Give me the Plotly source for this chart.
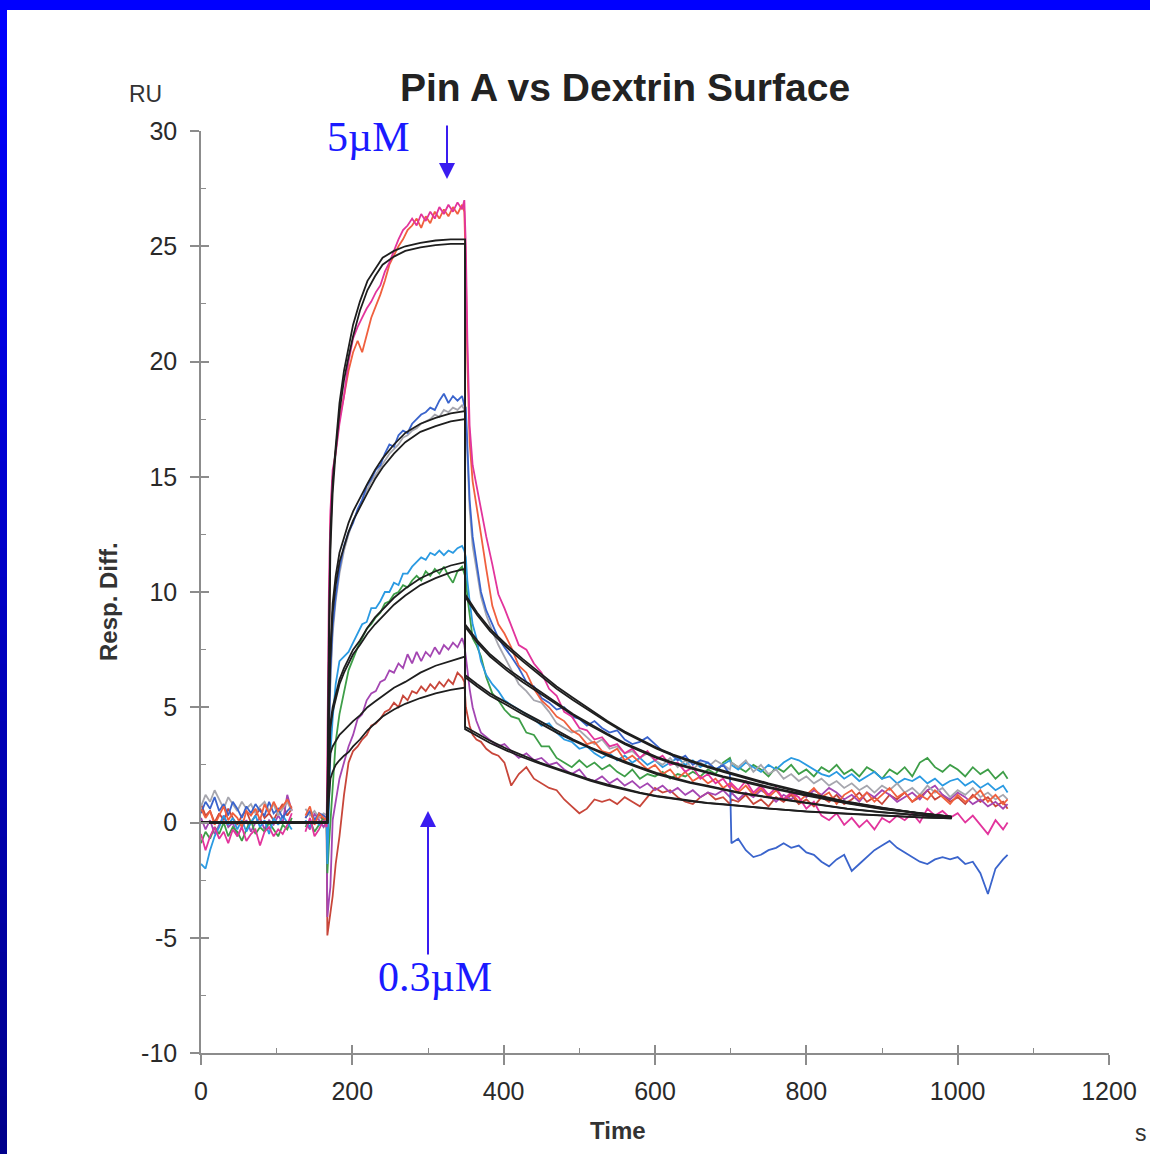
import plotly.graph_objects as go

# ---------------- data ----------------
T_BASE = [0, 6, 12, 18, 24, 30, 36, 42, 48, 54, 60, 66, 72, 78, 84, 90, 96, 102, 108, 114,
          120, 126, 132, 138, 144, 150, 156, 162, 166]
T_ASSOC = [167, 169, 171, 174, 178, 183, 189, 195, 201, 207, 213, 219, 225, 231, 237, 243, 249,
           255, 261, 267, 273, 279, 285, 291, 297, 303, 309, 315, 321, 327, 333, 339, 345, 348]
T_DISS = [350, 352, 355, 359, 364, 370, 377, 385, 393, 401,
          410, 420, 430, 440, 450, 460, 470, 480, 490, 500,
          510, 520, 530, 540, 550, 560, 570, 580, 590, 600,
          610, 620, 630, 640, 650, 660, 670, 680, 690,
          699, 701,
          710, 720, 730, 740, 750, 760, 770, 780, 790, 800,
          810, 820, 830, 840, 850, 860, 870, 880, 890, 900,
          910, 920, 930, 940, 950, 960, 970, 980, 990, 1000,
          1010, 1020, 1030, 1040, 1050, 1060,
          1066]

# baseline (29 values each, None = gap in recording)
pink_base = [-0.5, -1.2, -0.6, -0.2, -0.7, -0.4, -0.9, -0.3, -0.6, -0.2, -0.8, -0.5, -0.3, -1.0, -0.4,
             -0.2, -0.6, -0.3, -0.5, -0.1, 0.4, None, None, -0.4, 0.2, -0.6, -0.3, 0.1, -0.2]
orange_base = [0.6, 0.2, 0.5, -0.1, 0.3, 0.7, 0.1, 0.4, 0.2, -0.2, 0.5, 0.3, 0.6, 0.1, 0.8,
               0.4, 0.9, 0.5, 0.7, 1.0, 0.6, None, None, 0.3, 0.7, -0.1, 0.4, 0.2, 0.1]
blue_base = [0.4, 0.9, 0.6, 1.1, 0.5, 0.8, 0.3, 0.9, 0.6, 0.2, 0.7, 0.4, 0.8, 0.5, 0.3,
             0.9, 0.4, 0.6, 0.2, 0.5, 0.7, None, None, 0.2, 0.5, 0.1, 0.4, 0.3, 0.2]
gray_base = [0.7, 1.2, 0.9, 1.4, 1.0, 0.6, 1.1, 0.8, 0.5, 0.9, 0.6, 0.8, 0.4, 0.7, 0.9,
             0.5, 0.8, 0.3, 0.6, 0.9, 0.5, None, None, 0.6, 0.3, 0.5, 0.2, 0.4, 0.3]
cyan_base = [-1.8, -2.0, -1.2, -0.6, -0.2, 0.3, -0.1, 0.2, -0.3, 0.1, -0.4, 0.0, 0.3, -0.2, 0.1,
             -0.5, 0.2, -0.1, 0.3, 0.0, -0.3, None, None, 0.1, -0.2, 0.2, -0.1, 0.0, 0.1]
green_base = [-0.9, -0.4, -0.7, -0.2, -0.5, 0.0, -0.6, -0.2, -0.4, -0.8, -0.3, 0.1, -0.5, -0.2, -0.4,
              0.0, -0.3, -0.6, -0.1, -0.3, 0.2, None, None, -0.2, 0.1, -0.4, -0.1, 0.2, 0.0]
purple_base = [0.2, -0.3, 0.1, -0.5, -0.1, 0.3, -0.2, 0.0, -0.6, -0.2, 0.1, -0.4, 0.0, 0.2, -0.3,
               0.1, -0.1, 0.3, 0.0, 1.2, 0.5, None, None, 0.0, -0.3, 0.4, 0.1, -0.2, 0.0]
red_base = [0.8, 0.3, 0.5, 0.0, 0.4, 0.1, 0.6, 0.2, -0.1, 0.3, 0.5, 0.0, 0.3, 0.6, 0.2,
            0.4, 0.1, 0.5, 0.8, 0.3, 0.6, None, None, 0.2, 0.5, 0.0, 0.3, 0.1, 0.2]

# association (34 values each)
pink_assoc = [3.0, 10.0, 13.5, 15.3, 16.0, 17.3, 18.5, 20.0, 21.0, 21.5,
              21.9, 22.3, 22.6, 23.0, 23.3, 23.9, 24.3, 24.8, 25.3, 25.7,
              25.9, 26.2, 25.9, 26.4, 26.1, 26.5, 26.2, 26.7, 26.4, 26.8,
              26.5, 26.9, 26.6, 27.0]
orange_assoc = [1.0, 8.0, 13.0, 15.0, 16.2, 17.5, 18.5, 19.6, 20.4, 20.9,
                20.4, 21.2, 21.9, 22.4, 22.9, 23.5, 24.2, 24.6, 25.0, 25.3,
                25.7, 25.9, 26.2, 25.8, 26.3, 26.0, 26.5, 26.2, 26.6, 26.3,
                26.7, 26.4, 26.8, 26.5]
blue_assoc = [0.5, 4.0, 6.5, 8.5, 9.8, 11.0, 12.0, 12.6, 13.0, 13.6,
              14.0, 14.6, 14.9, 15.3, 15.5, 16.0, 16.4, 16.3, 16.8, 17.0,
              16.9, 17.3, 17.5, 17.7, 17.8, 18.0, 17.9, 18.3, 18.6, 18.2,
              18.5, 18.3, 18.5, 18.1]
gray_assoc = [0.3, 3.5, 6.0, 8.2, 9.6, 10.8, 11.8, 12.5, 13.1, 13.5,
              14.0, 14.4, 14.8, 15.1, 15.4, 15.7, 16.0, 16.2, 16.4, 16.7,
              16.8, 17.0, 17.1, 17.3, 17.4, 17.5, 17.7, 17.6, 17.9, 17.8,
              18.0, 17.9, 18.1, 17.9]
cyan_assoc = [-1.8, 1.0, 3.0, 4.5, 6.0, 7.0, 7.2, 7.4, 7.8, 8.2,
              8.6, 8.7, 9.3, 9.3, 9.6, 10.0, 10.0, 10.4, 10.3, 10.8,
              10.8, 11.1, 11.3, 11.5, 11.4, 11.7, 11.6, 11.8, 11.6, 11.8,
              11.7, 11.9, 12.0, 11.8]
green_assoc = [-2.2, -1.0, 0.0, 1.2, 3.5, 4.7, 5.6, 6.6, 7.1, 7.6,
               8.0, 8.4, 8.6, 8.9, 9.1, 9.5, 9.6, 9.9, 10.0, 10.3,
               10.2, 10.5, 10.7, 10.5, 10.9, 10.7, 11.0, 10.8, 11.1, 10.7,
               10.4, 10.9, 11.1, 10.8]
purple_assoc = [-4.1, -3.4, -2.8, 0.1, 1.0, 1.9, 2.6, 3.3, 3.8, 4.5,
                4.7, 5.3, 5.6, 5.7, 6.1, 6.2, 6.6, 6.5, 6.9, 6.7,
                7.3, 6.9, 7.4, 7.0, 7.4, 7.2, 7.6, 7.3, 7.7, 7.5,
                7.8, 7.6, 8.0, 7.7]
red_assoc = [-4.9, -4.4, -4.0, -3.2, -1.8, -0.6, 1.2, 2.6, 3.1, 3.3,
             3.6, 3.8, 4.2, 4.3, 4.5, 4.8, 4.9, 5.2, 5.0, 5.5,
             5.3, 5.7, 5.6, 5.9, 5.7, 6.0, 5.8, 6.1, 5.9, 6.2,
             6.0, 6.5, 6.3, 6.1]

# dissociation (78 values each)
pink_diss = [25.0, 21.0, 17.2, 15.5, 14.6, 13.6, 12.4, 11.2, 9.9, 9.3,
             8.5, 7.7, 7.5, 6.9, 6.5, 5.8, 5.5, 4.8, 4.6, 4.1,
             4.0, 3.6, 3.7, 3.3, 3.4, 3.0, 3.2, 2.8, 3.1, 2.7,
             2.9, 2.5, 2.6, 2.2, 2.4, 1.9, 2.1, 1.7, 1.9,
             1.5, 1.7,
             1.4, 1.8, 1.3, 1.6, 1.2, 1.5, 1.0, 1.3, 1.1, 0.6,
             0.9, 0.3, 0.1, 0.4, -0.1, 0.2, -0.2, 0.1, -0.3, 0.2,
             0.0, 0.3, 0.1, 0.4, 0.0, 0.6, 0.3, 0.5, 0.2, 0.4,
             0.0, 0.3, -0.1, -0.5, 0.1, -0.3,
             0.0]
orange_diss = [24.0, 20.0, 16.5, 14.8, 13.8, 12.5, 11.0, 9.4, 8.6, 8.2,
               7.6, 6.8, 6.5, 5.8, 5.3, 5.0, 4.6, 4.4, 4.0, 3.8,
               3.4, 3.5, 3.1, 3.0, 3.2, 2.7, 2.9, 2.6, 2.3, 2.5,
               2.1, 2.3, 1.9, 2.2, 1.8, 2.0, 1.7, 1.9, 1.5,
               1.7, 1.6,
               1.3, 1.6, 1.2, 1.5, 1.1, 1.4, 1.0, 1.3, 0.9, 1.2,
               1.5, 1.1, 1.3, 0.8, 1.2, 1.4, 1.0, 1.3, 0.9, 1.2,
               1.5, 1.1, 1.3, 0.9, 1.2, 1.0, 1.4, 1.1, 0.8, 1.2,
               0.9, 1.1, 1.4, 0.9, 1.2, 0.8,
               1.0]
blue_diss = [18.0, 16.5, 14.0, 12.4, 11.2, 10.0, 9.2, 8.6, 8.0, 7.6,
             7.2, 6.7, 6.1, 5.9, 5.4, 5.2, 4.9, 5.0, 4.6, 4.5,
             4.2, 4.4, 4.1, 3.9, 4.0, 3.6, 3.4, 3.5, 3.7, 3.4,
             3.1, 3.0, 2.7, 2.9, 2.5, 2.7, 2.6, 2.3, 2.5,
             2.1, -0.9,
             -0.7, -1.2, -1.5, -1.4, -1.2, -1.1, -0.9, -1.1, -1.0, -1.3,
             -1.4, -1.7, -1.9, -1.6, -1.4, -2.1, -1.8, -1.5, -1.2, -1.0,
             -0.8, -1.1, -1.3, -1.5, -1.7, -1.8, -1.6, -1.5, -1.6, -1.5,
             -1.8, -1.7, -2.2, -3.1, -2.0, -1.6,
             -1.4]
gray_diss = [17.5, 16.0, 13.6, 12.0, 10.9, 9.8, 9.0, 8.3, 7.7, 7.2,
             6.6, 6.0, 5.7, 5.3, 5.2, 4.8, 4.3, 4.1, 3.9, 4.0,
             3.7, 3.4, 3.6, 3.2, 3.3, 3.0, 3.1, 2.8, 3.0, 2.7,
             2.5, 2.8, 2.4, 2.7, 2.3, 2.6, 2.4, 2.7, 2.5,
             2.3, 2.6,
             2.4, 2.7, 2.2, 2.5, 2.1, 2.3, 1.9, 2.1, 1.8, 2.0,
             1.7, 1.9, 1.6, 1.8, 1.5, 1.7, 1.4, 1.6, 1.3, 1.6,
             1.4, 1.7, 1.3, 1.5, 1.2, 1.6, 1.3, 1.5, 1.1, 1.4,
             1.2, 1.5, 1.1, 1.3, 1.0, 1.2,
             1.0]
cyan_diss = [11.5, 10.5, 9.6, 8.6, 8.0, 7.0, 6.4, 6.0, 5.7, 5.3,
             5.1, 4.9, 4.7, 4.5, 4.2, 4.3, 3.9, 3.6, 3.5, 3.2,
             3.3, 3.0, 2.8, 3.0, 2.7, 2.9, 2.6, 2.8, 2.5, 2.7,
             2.4, 2.6, 2.8, 2.5, 2.7, 2.4, 2.6, 2.3, 2.5,
             2.7, 2.5,
             2.3, 2.6, 2.4, 2.2, 2.5, 2.3, 2.6, 2.8, 2.7, 2.5,
             2.3, 2.1, 2.0, 2.2, 1.9, 2.1, 1.8, 2.0, 2.2, 1.9,
             2.0, 1.7, 1.9, 1.8, 2.0, 1.7, 1.9, 1.6, 1.8, 1.9,
             1.6, 1.8, 1.5, 1.7, 1.4, 1.6,
             1.3]
green_diss = [10.6, 9.8, 8.9, 8.0, 7.7, 7.2, 6.3, 5.6, 5.3, 4.9,
              4.6, 4.5, 3.9, 3.8, 3.3, 3.3, 2.8, 2.6, 2.4, 2.7,
              2.4, 2.6, 2.3, 2.5, 2.2, 2.0, 2.3, 1.9, 2.1, 2.0,
              2.2, 1.9, 2.1, 2.0, 2.2, 2.0, 2.3, 2.1, 2.6,
              2.8, 2.6,
              2.4, 2.2, 2.5, 2.3, 2.0, 2.4, 2.2, 2.5, 2.1, 2.3,
              2.0, 2.4, 2.2, 2.5, 2.1, 2.3, 2.0, 2.4, 2.2, 1.9,
              2.3, 2.1, 2.4, 2.0, 2.6, 2.8, 2.4, 2.2, 2.5, 2.3,
              2.0, 2.4, 2.1, 2.3, 1.9, 2.2,
              1.9]
purple_diss = [7.2, 6.6, 5.8, 5.0, 4.4, 3.9, 3.7, 3.5, 3.3, 3.4,
               3.1, 2.8, 3.0, 2.7, 2.8, 2.5, 2.6, 2.3, 2.1, 2.3,
               1.9, 1.8, 2.0, 1.7, 1.9, 1.6, 1.8, 1.5, 1.7, 1.4,
               1.6, 1.3, 1.5, 1.2, 1.4, 1.1, 1.3, 1.2, 1.4,
               1.1, 1.3,
               1.0, 1.3, 1.1, 1.4, 1.2, 0.9, 1.2, 1.0, 1.3, 1.1,
               1.4, 1.2, 1.5, 1.3, 1.0, 1.2, 0.9, 1.3, 1.1, 1.4,
               1.2, 0.9, 1.1, 1.3, 1.0, 1.4, 1.6, 1.2, 1.0, 1.3,
               1.1, 0.8, 1.0, 0.7, 0.9, 0.6,
               0.8]
red_diss = [5.0, 4.6, 4.2, 3.8, 3.6, 3.5, 3.2, 3.0, 2.9, 2.6,
            1.6, 2.1, 2.4, 1.9, 1.7, 1.5, 1.4, 1.0, 0.7, 0.4,
            0.6, 1.0, 0.9, 1.0, 0.8, 1.1, 0.9, 0.7, 1.1, 1.5,
            1.3, 1.4, 1.1, 0.9, 0.8, 1.1, 1.3, 1.0, 1.1,
            0.8, 1.0,
            0.9, 1.2, 0.8, 1.0, 0.7, 1.1, 0.9, 1.2, 0.8, 1.0,
            0.7, 1.1, 0.9, 1.2, 0.8, 1.0, 1.3, 0.9, 1.1, 0.8,
            1.2, 1.0, 1.3, 0.9, 1.1, 1.4, 1.0, 1.2, 0.9, 1.1,
            0.8, 1.2, 0.9, 1.1, 0.7, 0.9,
            0.6]

# fitted curves (black)
FIT_T_ASSOC = [0, 167, 169, 171, 174, 178, 183, 189, 195, 201, 210, 220, 230, 240, 255, 270, 290, 310, 330, 349]
FIT_T_DISS = [349, 365, 382, 404, 425, 448, 470, 492, 515, 537, 560, 580, 602, 624, 646, 669, 690,
              712, 750, 800, 854, 900, 950, 992]
fit1_assoc = [0, 0, 8.0, 12.5, 14.8, 16.5, 18.2, 19.6, 20.6, 21.6, 22.6, 23.5, 24.0, 24.5, 24.8, 25.0, 25.15, 25.25, 25.3, 25.3]
fit2_assoc = [0, 0, 7.0, 11.8, 14.3, 16.1, 17.8, 19.2, 20.2, 21.1, 22.2, 23.1, 23.7, 24.2, 24.55, 24.8, 24.95, 25.05, 25.1, 25.1]
fit3_assoc = [0, 0, 5.0, 7.5, 9.5, 10.7, 11.7, 12.4, 13.0, 13.5, 14.1, 14.7, 15.3, 15.8, 16.4, 16.9, 17.3, 17.55, 17.75, 17.85]
fit4_assoc = [0, 0, 4.6, 7.1, 9.1, 10.3, 11.3, 12.0, 12.6, 13.1, 13.7, 14.3, 14.9, 15.4, 16.0, 16.5, 16.95, 17.2, 17.4, 17.5]
fit5_assoc = [0, 0, 2.5, 4.3, 5.0, 5.6, 6.2, 6.7, 7.1, 7.5, 7.9, 8.45, 8.9, 9.25, 9.75, 10.15, 10.6, 10.9, 11.15, 11.3]
fit6_assoc = [0, 0, 2.3, 4.1, 4.8, 5.4, 6.0, 6.5, 6.9, 7.3, 7.7, 8.2, 8.6, 8.95, 9.45, 9.85, 10.3, 10.6, 10.85, 11.0]
fit7_assoc = [0, 0, 1.8, 3.0, 3.3, 3.55, 3.8, 4.0, 4.2, 4.4, 4.65, 5.0, 5.25, 5.5, 5.85, 6.1, 6.5, 6.8, 7.0, 7.2]
fit8_assoc = [0, 0, 1.0, 1.9, 2.2, 2.5, 2.7, 2.9, 3.05, 3.3, 3.6, 4.0, 4.3, 4.6, 4.9, 5.15, 5.4, 5.6, 5.75, 5.85]
fit1_diss = [9.9, 9.1, 8.4, 7.7, 7.1, 6.5, 5.9, 5.4, 4.9, 4.4, 3.95, 3.6, 3.25, 2.95, 2.7, 2.45, 2.25, 2.05, 1.7, 1.3, 0.9, 0.65, 0.4, 0.25]
fit2_diss = [9.8, 9.0, 8.3, 7.6, 7.0, 6.4, 5.8, 5.3, 4.8, 4.35, 3.9, 3.55, 3.2, 2.9, 2.65, 2.4, 2.2, 2.0, 1.65, 1.25, 0.88, 0.63, 0.4, 0.25]
fit3_diss = [8.6, 7.9, 7.3, 6.7, 6.2, 5.7, 5.2, 4.7, 4.25, 3.85, 3.45, 3.15, 2.85, 2.6, 2.4, 2.2, 2.0, 1.85, 1.55, 1.2, 0.85, 0.6, 0.4, 0.25]
fit4_diss = [8.5, 7.8, 7.2, 6.6, 6.1, 5.6, 5.1, 4.65, 4.2, 3.8, 3.4, 3.1, 2.8, 2.55, 2.35, 2.15, 1.97, 1.8, 1.5, 1.17, 0.83, 0.58, 0.38, 0.24]
fit5_diss = [6.4, 6.0, 5.6, 5.2, 4.8, 4.4, 4.0, 3.6, 3.25, 2.95, 2.65, 2.4, 2.15, 1.95, 1.75, 1.6, 1.45, 1.3, 1.1, 0.85, 0.6, 0.45, 0.3, 0.2]
fit6_diss = [6.3, 5.9, 5.5, 5.1, 4.7, 4.3, 3.9, 3.55, 3.2, 2.9, 2.6, 2.35, 2.1, 1.9, 1.72, 1.57, 1.42, 1.28, 1.08, 0.83, 0.59, 0.44, 0.3, 0.2]
fit7_diss = [4.15, 3.85, 3.55, 3.2, 2.9, 2.6, 2.35, 2.1, 1.85, 1.65, 1.45, 1.3, 1.15, 1.05, 0.95, 0.85, 0.8, 0.72, 0.6, 0.48, 0.38, 0.3, 0.22, 0.18]
fit8_diss = [4.05, 3.75, 3.45, 3.12, 2.83, 2.55, 2.3, 2.05, 1.8, 1.6, 1.42, 1.27, 1.13, 1.02, 0.93, 0.84, 0.78, 0.7, 0.58, 0.47, 0.37, 0.29, 0.22, 0.18]

X_TICKS = [0, 200, 400, 600, 800, 1000, 1200]
X_TICKTEXT = ["0", "200", "400", "600", "800", "1000", "1200"]
Y_TICKS = [-10, -5, 0, 5, 10, 15, 20, 25, 30]
Y_TICKTEXT = ["-10", "-5", "0", "5", "10", "15", "20", "25", "30"]

# ---------------- assemble ----------------
series = [
    ("red", "#c8463a", red_base, red_assoc, red_diss),
    ("purple", "#a446b2", purple_base, purple_assoc, purple_diss),
    ("green", "#3e9e48", green_base, green_assoc, green_diss),
    ("cyan", "#2a9ae2", cyan_base, cyan_assoc, cyan_diss),
    ("gray", "#a6a6ae", gray_base, gray_assoc, gray_diss),
    ("blue", "#3a64cc", blue_base, blue_assoc, blue_diss),
    ("orange", "#f0603e", orange_base, orange_assoc, orange_diss),
    ("pink", "#e2349c", pink_base, pink_assoc, pink_diss),
]
fits = [
    (fit1_assoc, fit1_diss), (fit2_assoc, fit2_diss), (fit3_assoc, fit3_diss), (fit4_assoc, fit4_diss),
    (fit5_assoc, fit5_diss), (fit6_assoc, fit6_diss), (fit7_assoc, fit7_diss), (fit8_assoc, fit8_diss),
]

T_ALL = T_BASE + T_ASSOC + T_DISS
for name, _, b, a, d in series:
    if len(b) != len(T_BASE) or len(a) != len(T_ASSOC) or len(d) != len(T_DISS):
        raise SystemExit(f"length mismatch {name}: {len(b)} {len(a)} {len(d)}")
for fa, fd in fits:
    if len(fa) != len(FIT_T_ASSOC) or len(fd) != len(FIT_T_DISS):
        raise SystemExit("fit length mismatch")

fig = go.Figure()
for name, color, b, a, d in series:
    fig.add_trace(go.Scatter(x=T_ALL, y=b + a + d, mode="lines", name=name,
                             line=dict(color=color, width=1.8), connectgaps=False,
                             hoverinfo="skip"))
FIT_T = FIT_T_ASSOC + FIT_T_DISS
for fa, fd in fits:
    fig.add_trace(go.Scatter(x=FIT_T, y=fa + fd, mode="lines", xaxis="x2", yaxis="y2",
                             line=dict(color="#1e1e1e", width=1.8), hoverinfo="skip"))

# ---------------- layout ----------------
W, H = 1150, 1154
L, R, T, B = 201, 41, 131, 101
PW, PH = W - L - R, H - T - B


def px(xp):
    return (xp - L) / PW


def py(yp):
    return 1 - (yp - T) / PH


AX_COL = "#8c8c8c"
FONT = "Liberation Sans, Arial, sans-serif"
TICKFONT = dict(family=FONT, size=25, color="#2a2a2a")

fig.update_layout(
    width=W, height=H, margin=dict(l=L, r=R, t=T, b=B, pad=0),
    paper_bgcolor="white", plot_bgcolor="white", showlegend=False,
    xaxis=dict(range=[0, 1200], tickvals=X_TICKS, ticktext=X_TICKTEXT, ticks="outside", ticklen=10,
               tickwidth=1.5, tickcolor=AX_COL, showline=True, linecolor=AX_COL, linewidth=1.5,
               showgrid=False, zeroline=False, tickfont=TICKFONT, ticklabelstandoff=5),
    yaxis=dict(range=[-10, 30], tickvals=Y_TICKS, ticktext=Y_TICKTEXT, ticks="outside", ticklen=9,
               tickwidth=1.5, tickcolor=AX_COL, showline=True, linecolor=AX_COL, linewidth=1.5,
               showgrid=False, zeroline=False, tickfont=TICKFONT, ticklabelstandoff=8),
    xaxis2=dict(range=[0, 1200], overlaying="x", anchor="y2", side="bottom", tickvals=X_TICKS,
                ticks="inside", ticklen=8, tickwidth=1.5, tickcolor=AX_COL,
                minor=dict(dtick=100, tick0=0, ticks="inside", ticklen=5, tickcolor=AX_COL, tickwidth=1.2),
                showticklabels=False, showline=False, showgrid=False, zeroline=False),
    yaxis2=dict(range=[-10, 30], overlaying="y", anchor="x2", side="left", tickvals=Y_TICKS,
                ticks="inside", ticklen=8, tickwidth=1.5, tickcolor=AX_COL,
                minor=dict(dtick=2.5, tick0=0, ticks="inside", ticklen=5, tickcolor=AX_COL, tickwidth=1.2),
                showticklabels=False, showline=False, showgrid=False, zeroline=False),
)

shapes = []
# blue slide frame: top bar and left bar with vertical gradient
shapes.append(dict(type="rect", xref="paper", yref="paper", x0=px(0), x1=px(W), y0=py(10), y1=py(0),
                   fillcolor="#0000ff", line=dict(width=0), layer="above"))
N = 40
for i in range(N):
    y0p = i * H / N
    y1p = (i + 1) * H / N + 1
    f = i / (N - 1)
    b = int(round(255 - f * (255 - 140)))
    shapes.append(dict(type="rect", xref="paper", yref="paper", x0=px(0), x1=px(7),
                       y0=py(y1p), y1=py(y0p), fillcolor=f"rgb(0,0,{b})", line=dict(width=0),
                       layer="above"))
fig.update_layout(shapes=shapes)

ann = []
ann.append(dict(text="<b>Pin A vs Dextrin Surface</b>", x=px(625), y=py(88), xref="paper", yref="paper",
                showarrow=False, font=dict(family=FONT, size=39, color="#222222"),
                xanchor="center", yanchor="middle"))
ann.append(dict(text="RU", x=px(145), y=py(94), xref="paper", yref="paper", showarrow=False,
                font=dict(family=FONT, size=23, color="#333333"), xanchor="center", yanchor="middle"))
ann.append(dict(text="<b>Resp. Diff.</b>", x=px(108), y=py(602), xref="paper", yref="paper",
                showarrow=False, textangle=-90, font=dict(family=FONT, size=24, color="#333333"),
                xanchor="center", yanchor="middle"))
ann.append(dict(text="<b>Time</b>", x=px(618), y=py(1130), xref="paper", yref="paper", showarrow=False,
                font=dict(family=FONT, size=24, color="#333333"), xanchor="center", yanchor="middle"))
ann.append(dict(text="s", x=px(1141), y=py(1133), xref="paper", yref="paper", showarrow=False,
                font=dict(family=FONT, size=23, color="#333333"), xanchor="center", yanchor="middle"))
# concentration labels and arrows
SERIF = "Liberation Serif, Times New Roman, serif"
ann.append(dict(text="5µM", x=px(368), y=py(137), xref="paper", yref="paper", showarrow=False,
                font=dict(family=SERIF, size=42, color="#1a1aff"), xanchor="center", yanchor="middle"))
ann.append(dict(text="0.3µM", x=px(435), y=py(977), xref="paper", yref="paper", showarrow=False,
                font=dict(family=SERIF, size=42, color="#1a1aff"), xanchor="center", yanchor="middle"))
ann.append(dict(text="", x=px(447), y=py(179), xref="paper", yref="paper", showarrow=True,
                ax=0, ay=-55, arrowhead=2, arrowsize=1.6, arrowwidth=2, arrowcolor="#3a1cf0"))
ann.append(dict(text="", x=px(428), y=py(811), xref="paper", yref="paper", showarrow=True,
                ax=0, ay=145, arrowhead=2, arrowsize=1.6, arrowwidth=2, arrowcolor="#3a1cf0"))
fig.update_layout(annotations=ann)

fig.write_html("out.html")
